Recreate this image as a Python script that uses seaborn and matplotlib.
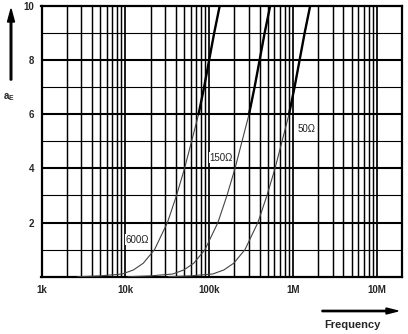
import numpy as np
import pandas as pd
import matplotlib
matplotlib.use("Agg")
import matplotlib.pyplot as plt
import seaborn as sns

# ---- data ----
ae_600   = [0.0, 0.03, 0.1, 0.25, 0.5, 1.0, 2.0, 3.0, 4.0, 5.0, 6.0, 7.0, 8.0, 9.0, 10.0]
freq_600 = [2.7e3, 5.0e3, 9.2e3, 1.25e4, 1.64e4, 2.23e4, 3.18e4, 4.08e4, 5.09e4, 6.17e4, 7.48e4, 8.71e4, 1.0e5, 1.148e5, 1.336e5]
ae_150   = [0.0, 0.03, 0.1, 0.25, 0.5, 1.0, 2.0, 3.0, 4.0, 5.0, 6.0, 7.0, 8.0, 9.0, 10.0]
freq_150 = [1.08e4, 2.0e4, 3.68e4, 5.0e4, 6.56e4, 8.92e4, 1.272e5, 1.632e5, 2.036e5, 2.468e5, 2.992e5, 3.484e5, 4.0e5, 4.592e5, 5.344e5]
ae_50    = [0.0, 0.03, 0.1, 0.25, 0.5, 1.0, 2.0, 3.0, 4.0, 5.0, 6.0, 7.0, 8.0, 9.0, 10.0]
freq_50  = [3.24e4, 6.0e4, 1.104e5, 1.5e5, 1.968e5, 2.676e5, 3.816e5, 4.896e5, 6.108e5, 7.404e5, 8.976e5, 1.045e6, 1.2e6, 1.378e6, 1.603e6]
curve_names = ["600\u03a9", "150\u03a9", "50\u03a9"]
label_pos_f = [1.0e4, 1.0e5, 1.12e6]
label_pos_y = [1.36, 4.4, 5.45]
x_ticks = [1e3, 1e4, 1e5, 1e6, 1e7]
x_tick_labels = ["1k", "10k", "100k", "1M", "10M"]
y_ticks = [2, 4, 6, 8, 10]
y_tick_labels = ["2", "4", "6", "8", "10"]

df = pd.concat([
    pd.DataFrame({"f": freq_600, "ae": ae_600, "R": curve_names[0]}),
    pd.DataFrame({"f": freq_150, "ae": ae_150, "R": curve_names[1]}),
    pd.DataFrame({"f": freq_50, "ae": ae_50, "R": curve_names[2]}),
], ignore_index=True)

sns.set_style("white")
plt.rcParams["font.family"] = ["Liberation Sans", "DejaVu Sans"]

W, H = 408, 334
fig = plt.figure(figsize=(W / 100, H / 100), dpi=100)
ax = fig.add_axes([41.5 / W, 1 - 276.7 / H, (402 - 41.5) / W, (276.7 - 6) / H])
ax.set_xscale("log")
ax.set_xlim(1e3, 2e7)
ax.set_ylim(0, 10)

# grid
for d in [1e3, 1e4, 1e5, 1e6, 1e7]:
    for m in range(1, 10):
        v = d * m
        if v <= 1e3 or v >= 2e7:
            continue
        ax.axvline(v, color="black", lw=1.25 if m == 1 else 1.05, zorder=1)
for yv in range(1, 10):
    ax.axhline(yv, color="black", lw=1.5 if yv % 2 == 0 else 0.8, zorder=1)

# curves
sns.lineplot(data=df, x="f", y="ae", units="R", estimator=None, color="#444444",
             lw=0.8, ax=ax, legend=False, zorder=3, sort=False)
sns.lineplot(data=df[df["ae"] >= 6], x="f", y="ae", units="R", estimator=None, color="black",
             lw=1.7, ax=ax, legend=False, zorder=4, sort=False)

for name, lf, ly in zip(curve_names, label_pos_f, label_pos_y):
    ax.text(lf, ly, name, fontsize=7, ha="left", va="center", color="#222222", zorder=5,
            bbox=dict(facecolor="white", edgecolor="none", pad=0.3))

for s in ax.spines.values():
    s.set_color("black")
    s.set_linewidth(1.6)
    s.set_visible(True)

ax.set_xticks(x_ticks)
ax.set_xticklabels(x_tick_labels, fontsize=7, fontweight="bold")
ax.xaxis.set_minor_locator(matplotlib.ticker.NullLocator())
ax.tick_params(axis="x", direction="out", length=3, width=1.2, color="black", pad=3)
ax.set_yticks(y_ticks)
ax.set_yticklabels(y_tick_labels, fontsize=7, fontweight="bold")
ax.tick_params(axis="y", length=0, pad=5)
ax.set_xlabel("")
ax.set_ylabel("")

# axis names with arrows
fig.text(9 / W, 1 - 97 / H, r"a$_\mathregular{E}$", fontsize=7, fontweight="bold",
         ha="center", va="center")
fig.patches.append(matplotlib.patches.FancyArrow(
    11 / W, 1 - 80 / H, 0, (80 - 9) / H, width=1.3 / H, head_width=7 / W,
    head_length=13 / H, length_includes_head=True, color="black",
    transform=fig.transFigure, figure=fig))
fig.text(352 / W, 1 - 325 / H, "Frequency", fontsize=8, fontweight="bold",
         ha="center", va="center")
fig.patches.append(matplotlib.patches.FancyArrow(
    322 / W, 1 - 311 / H, (398 - 322) / W, 0, width=1.3 / H, head_width=6 / H,
    head_length=12 / W, length_includes_head=True, color="black",
    transform=fig.transFigure, figure=fig))

fig.savefig("out.png", dpi=100)
